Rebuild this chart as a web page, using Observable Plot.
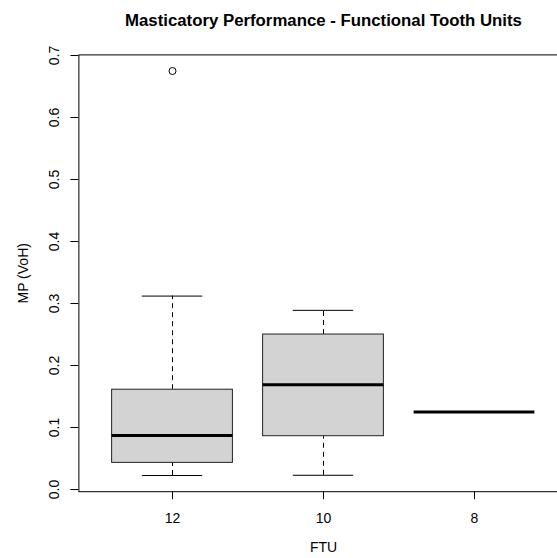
<!DOCTYPE html>
<html><head><meta charset="utf-8">
<script src="https://cdn.jsdelivr.net/npm/d3@7"></script>
<script src="https://cdn.jsdelivr.net/npm/@observablehq/plot@0.6"></script>
<style>
body{margin:0;background:#fff;overflow:hidden;width:557px;height:558px}
#chart svg{overflow:visible}
</style>
</head><body><div id="chart"></div>
<script>
// Data
const categories = ["12", "10", "8"];
const whiskerLow = [0.0226, 0.023, 0.125];
const q1 = [0.043, 0.086, 0.125];
const median = [0.087, 0.169, 0.125];
const q3 = [0.161, 0.250, 0.125];
const whiskerHigh = [0.312, 0.289, 0.125];
const outlierGroup = ["12"];
const outlierValue = [0.675];
const yTicks = [0, 0.1, 0.2, 0.3, 0.4, 0.5, 0.6, 0.7];
const title = "Masticatory Performance - Functional Tooth Units";
const xTitle = "FTU";
const yTitle = "MP (VoH)";

const rows = categories.map((c, i) => ({pos: i + 1, cat: c, lo: whiskerLow[i], q1: q1[i], med: median[i], q3: q3[i], hi: whiskerHigh[i]}));
const outl = outlierGroup.map((g, i) => ({pos: categories.indexOf(g) + 1, value: outlierValue[i]}));
const boxHalf = 0.4, capHalf = 0.2;
const font = "'Liberation Sans', Arial, Helvetica, sans-serif";

const chart = Plot.plot({
  width: 557, height: 558,
  marginLeft: 78.4, marginRight: -10.6, marginTop: 54.4, marginBottom: 66.8,
  style: {fontFamily: font, fontSize: "14px", background: "white", color: "black"},
  x: {type: "linear", domain: [0.38, 3.62]},
  y: {domain: [-0.0035, 0.701]},
  marks: [
    Plot.ruleX(rows, {x: "pos", y1: "q3", y2: "hi", stroke: "black", strokeDasharray: "5,4"}),
    Plot.ruleX(rows, {x: "pos", y1: "lo", y2: "q1", stroke: "black", strokeDasharray: "5,4"}),
    Plot.rect(rows, {x1: d => d.pos - boxHalf, x2: d => d.pos + boxHalf, y1: "q1", y2: "q3", fill: "#d3d3d3", stroke: "#222"}),
    Plot.ruleY(rows, {y: "hi", x1: d => d.pos - capHalf, x2: d => d.pos + capHalf, stroke: "black"}),
    Plot.ruleY(rows, {y: "lo", x1: d => d.pos - capHalf, x2: d => d.pos + capHalf, stroke: "black"}),
    Plot.ruleY(rows, {y: "med", x1: d => d.pos - boxHalf, x2: d => d.pos + boxHalf, stroke: "black", strokeWidth: 3}),
    Plot.dot(outl, {x: "pos", y: "value", r: 3.5, stroke: "black", fill: "none", strokeWidth: 1}),
    Plot.frame({stroke: "black"}),
    Plot.axisY({ticks: yTicks, tickFormat: d3.format(".1f"), tickSize: 8, tickRotate: -90, tickPadding: 12.4, label: null, fontSize: 14}),
    Plot.axisX({ticks: [1, 2, 3], tickFormat: d => categories[d - 1], tickSize: 8, tickPadding: 13, label: null, fontSize: 14}),
    Plot.text([title], {frameAnchor: "top", dy: -34, lineAnchor: "middle", fontWeight: "bold", fontSize: 16.8}),
    Plot.text([xTitle], {frameAnchor: "bottom", dy: 56, lineAnchor: "middle", fontSize: 14}),
    Plot.text([yTitle], {frameAnchor: "left", dx: -55, rotate: -90, textAnchor: "middle", lineAnchor: "middle", fontSize: 14})
  ]
});
document.getElementById("chart").append(chart);
</script>
</body></html>
